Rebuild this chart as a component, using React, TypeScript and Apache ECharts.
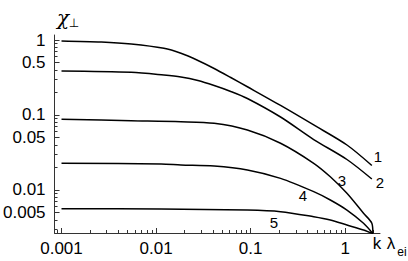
import React, { useEffect, useRef } from "react";
import * as echarts from "echarts";

// Curve data (log-log plot)
const curve1X = [0.001, 0.00264, 0.00546, 0.0121, 0.0183, 0.0277, 0.0411, 0.0616, 0.0923, 0.207, 0.464, 1.042, 1.91];
const curve1Y = [0.97, 0.94, 0.885, 0.775, 0.665, 0.533, 0.417, 0.316, 0.238, 0.134, 0.0736, 0.0398, 0.0212];

const curve2X = [0.001, 0.00546, 0.0121, 0.0183, 0.0277, 0.0411, 0.0616, 0.0923, 0.207, 0.464, 1.042, 1.91];
const curve2Y = [0.386, 0.371, 0.341, 0.321, 0.288, 0.247, 0.206, 0.166, 0.094, 0.0471, 0.0255, 0.014];

const curve3X = [0.001, 0.00546, 0.0183, 0.0411, 0.0923, 0.207, 0.464, 0.695, 1.042, 1.56, 1.91, 1.96];
const curve3Y = [0.0877, 0.0839, 0.0814, 0.0775, 0.0631, 0.042, 0.0227, 0.015, 0.00903, 0.00489, 0.0036, 0.00262];

const curve4X = [0.001, 0.0113, 0.0183, 0.0411, 0.0923, 0.207, 0.464, 0.695, 1.042, 1.56, 1.96];
const curve4Y = [0.0227, 0.0222, 0.0216, 0.0209, 0.0185, 0.0143, 0.0095, 0.00736, 0.0054, 0.0036, 0.00262];

const curve5X = [0.001, 0.0113, 0.0923, 0.207, 0.464, 0.695, 1.042, 1.56, 1.96];
const curve5Y = [0.00563, 0.00558, 0.0054, 0.00514, 0.0044, 0.00398, 0.00341, 0.00293, 0.00262];

const curveNames = ["1", "2", "3", "4", "5"];

// Tick labels
const xTickLabels = [0.001, 0.01, 0.1, 1];
const yTickLabels = [1, 0.5, 0.1, 0.05, 0.01, 0.005];

// Axis ranges (in data units)
const X_MIN_VAL = 0.000844;
const X_MAX_VAL = 2.33;
const Y_MIN_VAL = 0.00267;
const Y_MAX_VAL = 1.166;

const FONT = "'Liberation Sans', Arial, Helvetica, sans-serif";

function minorTicks(lo: number, hi: number, majors: number[]): number[] {
  const out: number[] = [];
  for (let d = -4; d <= 1; d++) {
    for (let m = 1; m <= 9; m++) {
      const v = m * Math.pow(10, d);
      if (v < lo || v > hi) continue;
      if (majors.some((t) => Math.abs(t - v) / t < 1e-6)) continue;
      out.push(Math.log10(v));
    }
  }
  return out;
}

function nearestLabel(v: number, list: number[]): string {
  const raw = Math.pow(10, v);
  let best = list[0];
  for (const t of list) {
    if (Math.abs(Math.log10(t) - Math.log10(raw)) < Math.abs(Math.log10(best) - Math.log10(raw))) best = t;
  }
  return String(best);
}

export default function App() {
  const ref = useRef<HTMLDivElement>(null);
  useEffect(() => {
    if (!ref.current) return;
    const chart = echarts.init(ref.current, undefined, { renderer: "svg" });
    const xs = [curve1X, curve2X, curve3X, curve4X, curve5X];
    const ys = [curve1Y, curve2Y, curve3Y, curve4Y, curve5Y];
    const xMin = Math.log10(X_MIN_VAL);
    const xMax = Math.log10(X_MAX_VAL);
    const yMin = Math.log10(Y_MIN_VAL);
    const yMax = Math.log10(Y_MAX_VAL);
    const xMajor = xTickLabels.map((v) => Math.log10(v));
    const yMajor = yTickLabels.map((v) => Math.log10(v));
    const xMinor = minorTicks(X_MIN_VAL, X_MAX_VAL, xTickLabels);
    const yMinor = minorTicks(Y_MIN_VAL, Y_MAX_VAL, yTickLabels);
    const axisColor = "#333";

    const series = xs.map((xa, k) => ({
      name: curveNames[k],
      type: "line",
      xAxisIndex: 0,
      yAxisIndex: 0,
      showSymbol: false,
      smooth: 0.3,
      clip: true,
      lineStyle: { color: "#000", width: 1.5 },
      data: xa.map((x, i) => [Math.log10(x), Math.log10(ys[k][i])]),
    }));

    const txt = (text: string, x: number, y: number, size: number, family = FONT, style = "normal") => ({
      type: "text",
      x,
      y,
      style: {
        text,
        fill: "#000",
        font: `${style} ${size}px ${family}`,
        textAlign: "center",
        textVerticalAlign: "middle",
      },
    });

    chart.setOption({
      animation: false,
      backgroundColor: "#fff",
      grid: { left: 53, right: 28, top: 35, bottom: 28, containLabel: false },
      xAxis: [
        {
          type: "value",
          min: xMin,
          max: xMax,
          axisLine: { show: true, onZero: false, lineStyle: { color: axisColor, width: 1 } },
          axisTick: { show: true, inside: true, length: 5, customValues: xMajor, lineStyle: { color: axisColor } },
          axisLabel: {
            customValues: xMajor,
            formatter: (v: number) => nearestLabel(v, xTickLabels),
            fontSize: 17,
            fontFamily: FONT,
            color: "#000",
            margin: 7,
          },
          splitLine: { show: false },
        },
        {
          type: "value",
          min: xMin,
          max: xMax,
          position: "bottom",
          axisLine: { show: false, onZero: false },
          axisTick: { show: true, inside: true, length: 3, customValues: xMinor, lineStyle: { color: axisColor } },
          axisLabel: { show: false },
          splitLine: { show: false },
        },
      ],
      yAxis: [
        {
          type: "value",
          min: yMin,
          max: yMax,
          axisLine: { show: true, onZero: false, lineStyle: { color: axisColor, width: 1 } },
          axisTick: { show: true, inside: true, length: 5, customValues: yMajor, lineStyle: { color: axisColor } },
          axisLabel: {
            customValues: yMajor,
            formatter: (v: number) => nearestLabel(v, yTickLabels),
            fontSize: 17,
            fontFamily: FONT,
            color: "#000",
            margin: 9,
          },
          splitLine: { show: false },
        },
        {
          type: "value",
          min: yMin,
          max: yMax,
          position: "left",
          axisLine: { show: false, onZero: false },
          axisTick: { show: true, inside: true, length: 3, customValues: yMinor, lineStyle: { color: axisColor } },
          axisLabel: { show: false },
          splitLine: { show: false },
        },
      ],
      series,
      graphic: [
        txt("χ", 63, 18, 20, "'DejaVu Serif', serif", "italic"),
        txt("⊥", 74, 23, 12, "'DejaVu Sans', sans-serif"),
        txt("k", 377, 243, 17),
        txt("λ", 391, 243, 17),
        txt("ei", 402, 252, 12),
        txt("1", 378, 156, 15),
        txt("2", 380, 182, 15),
        txt("3", 342, 180, 15),
        txt("4", 303, 195, 15),
        txt("5", 274, 222, 15),
      ],
    });
    return () => chart.dispose();
  }, []);
  return (
    <div
      ref={ref}
      style={{ position: "absolute", left: 0, top: 0, width: 408, height: 261, background: "#fff" }}
    />
  );
}
